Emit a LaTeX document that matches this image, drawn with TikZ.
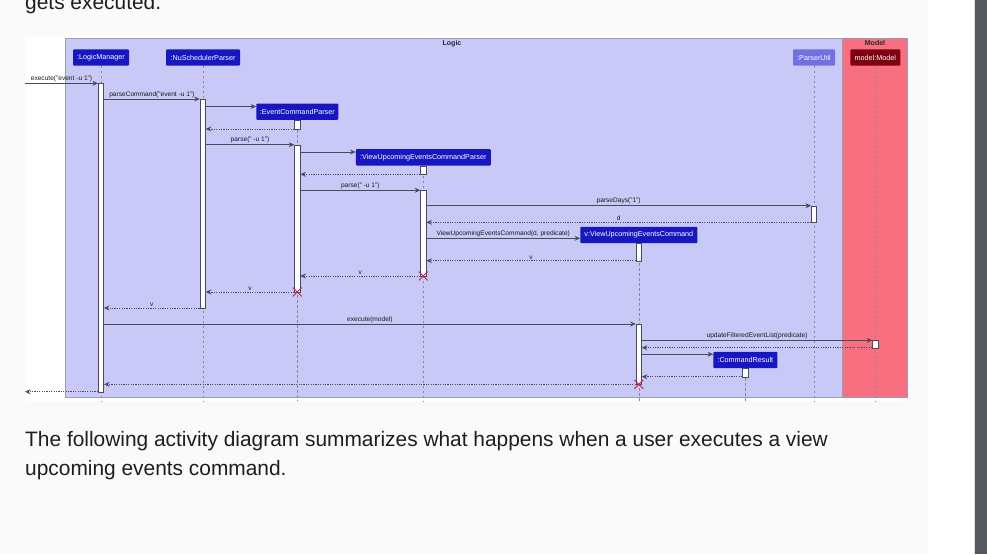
\documentclass[tikz,border=0pt]{standalone}
\usepackage{fontspec}
\setmainfont{Liberation Sans}
\usetikzlibrary{arrows.meta,shapes.misc,calc}
\definecolor{pagebg}{HTML}{FAFAFB}
\definecolor{scrollc}{HTML}{55595E}
\definecolor{logicfill}{HTML}{C9C9F8}
\definecolor{logicline}{HTML}{9C9CB8}
\definecolor{modelfill}{HTML}{F8707F}
\definecolor{hdrblue}{HTML}{1717C2}
\definecolor{hdrlight}{HTML}{7070E2}
\definecolor{hdrred}{HTML}{7E0012}
\definecolor{arrowc}{HTML}{4A4A5A}
\definecolor{lifec}{HTML}{8585A5}
\definecolor{xcol}{HTML}{C8204E}
\definecolor{bodytext}{HTML}{1E1E1E}
\begin{document}
\begin{tikzpicture}[x=1pt,y=-1pt,
  hdr/.style={fill=hdrblue, text=white, rounded corners=1pt, inner sep=0pt,
    minimum height=16.4pt, font=\fontsize{7.2}{8}\selectfont},
  act/.style={draw=arrowc, fill=white, line width=0.6pt, minimum width=5.5pt,
    inner sep=0pt, anchor=north},
  life/.style={draw=lifec, line width=0.6pt, dash pattern=on 2.5pt off 2.5pt},
  msg/.style={draw=arrowc, line width=0.7pt, -{Stealth[length=5.5pt,width=5pt,inset=1.8pt]}},
  ret/.style={msg, dash pattern=on 1.2pt off 1.2pt},
  lbl/.style={font=\fontsize{6.6}{7}\selectfont, text=black!90, inner sep=1.2pt, above},
  ttl/.style={font=\bfseries\fontsize{7}{8}\selectfont, text=black!85, inner sep=0pt},
  xmark/.style={cross out, draw=xcol, line width=0.9pt, minimum size=8pt, inner sep=0pt},
  body/.style={font=\fontsize{20.9}{28}\selectfont, text=bodytext, inner sep=0pt, anchor=base west}
]
\useasboundingbox (0,0) rectangle (987,554);
% page
\fill[pagebg] (0,0) rectangle (928,554);
\fill[white] (928,0) rectangle (974,554);
\fill[scrollc] (975,0) rectangle (987,554);
\draw[black!12] (974.5,0) -- (974.5,554);
\node[body] (top) at (25,9.5) {gets executed.};
\node[body] (p1) at (25,446.7) {The following activity diagram summarizes what happens when a user executes a view};
\node[body] (p2) at (25,475) {upcoming events command.};
% diagram image
\fill[white] (25,36) rectangle (907,401);
\draw[logicline, fill=logicfill, line width=0.6pt] (65.7,38) rectangle (842.7,397.7);
\draw[logicline, fill=modelfill, line width=0.6pt] (842.7,38) rectangle (907,397.7);
\node[ttl] (logicT) at (452,43.3) {Logic};
\node[ttl] (modelT) at (875,43.3) {Model};
% headers
\node[hdr, minimum width=56pt] (LM) at (101,57.5) {:LogicManager};
\node[hdr, minimum width=74pt] (NS) at (203,57.5) {:NuSchedulerParser};
\node[hdr, minimum width=82pt] (ECP) at (297.3,111.7) {:EventCommandParser};
\node[hdr, minimum width=135pt] (VU) at (423.3,157.3) {:ViewUpcomingEventsCommandParser};
\node[hdr, fill=hdrlight, minimum width=42pt] (PU) at (814,57.5) {:ParserUtil};
\node[hdr, fill=hdrred, minimum width=50pt] (MM) at (875.3,57.5) {model:Model};
\node[hdr, minimum width=117pt] (V) at (638.8,235) {v:ViewUpcomingEventsCommand};
\node[hdr, minimum width=64pt] (CR) at (745.3,360) {:CommandResult};
% lifelines
\foreach \n in {LM,NS,ECP,VU,PU,MM,V,CR}{
  \draw[life] (\n.south) -- (\n.south |- 0,401);
}
% activation bars
\node[act, minimum height=308.7pt] (LMa) at (101,83.3) {};
\node[act, minimum height=209pt] (NSa) at (202.7,99) {};
\node[act, minimum height=9pt] (ECPa1) at (297.3,120) {};
\node[act, minimum height=147.3pt] (ECPa2) at (297.3,144.7) {};
\node[act, minimum height=8.6pt] (VUa1) at (423.3,165.7) {};
\node[act, minimum height=85.7pt] (VUa2) at (423.3,190.3) {};
\node[act, minimum height=16.6pt] (PUa) at (814,205.7) {};
\node[act, minimum height=17.4pt] (Va1) at (638.8,243.3) {};
\node[act, minimum height=60.3pt] (Va2) at (638.8,324) {};
\node[act, minimum height=7.4pt] (MMa) at (875.3,340.3) {};
\node[act, minimum height=8.4pt] (CRa) at (745.3,368.3) {};
% free ends
\coordinate (inS) at (25,83.3);
\coordinate (outE) at (25,391.7);
% messages
\draw[msg] (inS) -- (LMa.west |- 0,83.3) node[lbl, midway] (l1) {execute("event -u 1")};
\draw[msg] (LMa.east |- 0,99) -- (NSa.west |- 0,99) node[lbl, midway] (l2) {parseCommand("event -u 1")};
\draw[msg] (NSa.east |- 0,106.5) -- (ECP.west |- 0,106.5);
\draw[ret] (ECPa1.west |- 0,129) -- (NSa.east |- 0,129);
\draw[msg] (NSa.east |- 0,144.7) -- (ECPa2.west |- 0,144.7) node[lbl, midway] (l3) {parse(" -u 1")};
\draw[msg] (ECPa2.east |- 0,152) -- (VU.west |- 0,152);
\draw[ret] (VUa1.west |- 0,174.3) -- (ECPa2.east |- 0,174.3);
\draw[msg] (ECPa2.east |- 0,190.3) -- (VUa2.west |- 0,190.3) node[lbl, midway] (l4) {parse(" -u 1")};
\draw[msg] (VUa2.east |- 0,205.7) -- (PUa.west |- 0,205.7) node[lbl, midway] (l5) {parseDays("1")};
\draw[ret] (PUa.west |- 0,222.3) -- (VUa2.east |- 0,222.3) node[lbl, midway] (l6) {d};
\draw[msg] (VUa2.east |- 0,238.3) -- (V.west |- 0,238.3) node[lbl, midway] (l7) {ViewUpcomingEventsCommand(d, predicate)};
\draw[ret] (Va1.west |- 0,260.7) -- (VUa2.east |- 0,260.7) node[lbl, midway] (l8) {v};
\draw[ret] (VUa2.west |- 0,276) -- (ECPa2.east |- 0,276) node[lbl, midway] (l9) {v};
\draw[ret] (ECPa2.west |- 0,292) -- (NSa.east |- 0,292) node[lbl, midway] (l10) {v};
\draw[ret] (NSa.west |- 0,308) -- (LMa.east |- 0,308) node[lbl, midway] (l11) {v};
\draw[msg] (LMa.east |- 0,324) -- (Va2.west |- 0,324) node[lbl, midway] (l12) {execute(model)};
\draw[msg] (Va2.east |- 0,340.3) -- (MMa.west |- 0,340.3) node[lbl, midway] (l13) {updateFilteredEventList(predicate)};
\draw[ret] (MMa.west |- 0,347.7) -- (Va2.east |- 0,347.7);
\draw[msg] (Va2.east |- 0,354.3) -- (CR.west |- 0,354.3);
\draw[ret] (CRa.west |- 0,376.7) -- (Va2.east |- 0,376.7);
\draw[ret] (Va2.west |- 0,384.3) -- (LMa.east |- 0,384.3);
\draw[ret] (LMa.west |- 0,391.7) -- (outE);
% destroy marks
\node[xmark] (x1) at (423.3,276) {};
\node[xmark] (x2) at (297.3,292) {};
\node[xmark] (x3) at (638.8,384.3) {};
\end{tikzpicture}
\end{document}
